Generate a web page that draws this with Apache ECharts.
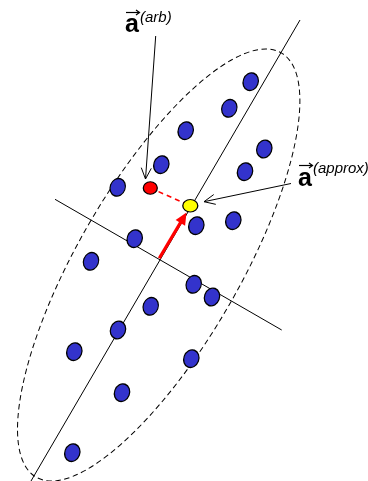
<!DOCTYPE html>
<html><head><meta charset="utf-8">
<script src="https://cdn.jsdelivr.net/npm/echarts@6/dist/echarts.min.js"></script>
<style>html,body{margin:0;padding:0;background:#fff}#c{width:368px;height:481px}</style>
</head><body><div id="c"></div>
<script>
// Diagram coordinates (x to the right, y downwards)
const bluePoints = [
  [250.7,81.7],[229.3,108.3],[185.7,130.7],[264.3,149],[245,171.7],
  [161.3,164.7],[117.7,187.3],[196.3,225.7],[233.3,220.7],[134.7,238.7],
  [91,261.3],[193.7,284.3],[212,297],[150.7,306.3],[118,330],
  [74.3,351.7],[191.3,358.7],[122,392.7],[72.3,452.7]
];
const arbPoint = [[150.3,188]];
const approxPoint = [[190.3,205.7]];
const principalAxis = [[300,20],[31,481]];
const secondAxis = [[55,199.3],[281.7,330]];
const projectionLine = [[150.3,188],[190.3,205.7]];
// cx, cy, semi-major, semi-minor, tilt (deg from vertical, clockwise)
const spreadEllipse = [[158.7,265,245,81,30]];
// x1, y1, x2, y2
const eigenArrow = [[159.3,258.3,186.5,212.5]];
const pointerArrows = [[155.7,36,145.5,179],[291,183.5,204,201.7]];
const vectorMarks = [[126,12.5,139.5,12.5],[299,165.5,312.5,165.5]];
const labelItems = [
  {pos:[125,25], text:'a', kind:'vec'},
  {pos:[140,17.5], text:'(arb)', kind:'sup'},
  {pos:[298,179], text:'a', kind:'vec'},
  {pos:[313,168.5], text:'(approx)', kind:'sup'}
];

function arrowRender(headLen, headHalf, filled, color, width) {
  return function (params, api) {
    const p1 = api.coord([api.value(0), api.value(1)]);
    const p2 = api.coord([api.value(2), api.value(3)]);
    const dx = p2[0]-p1[0], dy = p2[1]-p1[1];
    const L = Math.hypot(dx, dy), ux = dx/L, uy = dy/L;
    const bx = p2[0]-ux*headLen, by = p2[1]-uy*headLen;
    const nx = -uy, ny = ux;
    const left = [bx+nx*headHalf, by+ny*headHalf];
    const right = [bx-nx*headHalf, by-ny*headHalf];
    const children = [{
      type:'line',
      shape:{x1:p1[0], y1:p1[1], x2: filled ? bx+ux*2 : p2[0], y2: filled ? by+uy*2 : p2[1]},
      style:{stroke:color, lineWidth:width}
    }];
    if (filled) {
      children.push({type:'polygon', shape:{points:[p2,left,right]}, style:{fill:color}});
    } else {
      children.push({type:'polyline', shape:{points:[left,p2,right]}, style:{stroke:color, lineWidth:width, fill:null}});
    }
    return {type:'group', children};
  };
}

const chart = echarts.init(document.getElementById('c'), null, {renderer:'canvas'});
chart.setOption({
  animation:false,
  backgroundColor:'#fff',
  grid:{left:0, right:0, top:0, bottom:0},
  xAxis:{type:'value', min:0, max:368, show:false},
  yAxis:{type:'value', min:0, max:481, inverse:true, show:false},
  series:[
    {
      type:'custom', silent:true, z:1,
      data: spreadEllipse,
      renderItem:function(params, api){
        const c = api.coord([api.value(0), api.value(1)]);
        const s = api.size([api.value(3), api.value(2)]);
        return {
          type:'ellipse', x:c[0], y:c[1], rotation:-api.value(4)*Math.PI/180,
          shape:{cx:0, cy:0, rx:s[0], ry:s[1]},
          style:{fill:null, stroke:'#000', lineWidth:1, lineDash:[5.5,3.5]}
        };
      }
    },
    {type:'line', data:principalAxis, symbol:'none', silent:true, z:2, lineStyle:{color:'#000', width:1}},
    {type:'line', data:secondAxis, symbol:'none', silent:true, z:2, lineStyle:{color:'#000', width:1}},
    {type:'line', data:projectionLine, symbol:'none', silent:true, z:3, lineStyle:{color:'#ff0000', width:1.6, type:[5,4]}},
    {type:'custom', silent:true, z:4, data:eigenArrow, renderItem:arrowRender(12, 5.5, true, '#ff0000', 3.2)},
    {type:'custom', silent:true, z:4, data:pointerArrows, renderItem:arrowRender(11, 5, false, '#000', 1)},
    {type:'custom', silent:true, z:4, data:vectorMarks, renderItem:arrowRender(3.5, 2.5, false, '#000', 1.2)},
    {
      type:'scatter', data:bluePoints, silent:true, z:5,
      symbol:'circle', symbolSize:[15,18], symbolRotate:-20,
      itemStyle:{color:'#3333cc', borderColor:'#000', borderWidth:1.3, opacity:1}
    },
    {
      type:'scatter', data:arbPoint, silent:true, z:5,
      symbol:'circle', symbolSize:[14,12.5],
      itemStyle:{color:'#ff0000', borderColor:'#000', borderWidth:1.2, opacity:1}
    },
    {
      type:'scatter', data:approxPoint, silent:true, z:5,
      symbol:'circle', symbolSize:[15,12.5],
      itemStyle:{color:'#ffff00', borderColor:'#000', borderWidth:1.2, opacity:1}
    },
    {
      type:'scatter', silent:true, z:6,
      symbolSize:0.01, itemStyle:{color:'rgba(0,0,0,0)'},
      data: labelItems.map(function(d){
        return {
          value:d.pos,
          label:{
            show:true, position:[0,0], align:'left', verticalAlign:'middle',
            formatter:d.text, color:'#000', opacity:1,
            fontFamily:'Liberation Sans, Arial, sans-serif',
            fontSize: d.kind==='vec' ? 25 : 15,
            fontWeight: d.kind==='vec' ? 'bold' : 'normal',
            fontStyle: d.kind==='vec' ? 'normal' : 'italic'
          }
        };
      })
    }
  ]
});
</script></body></html>
